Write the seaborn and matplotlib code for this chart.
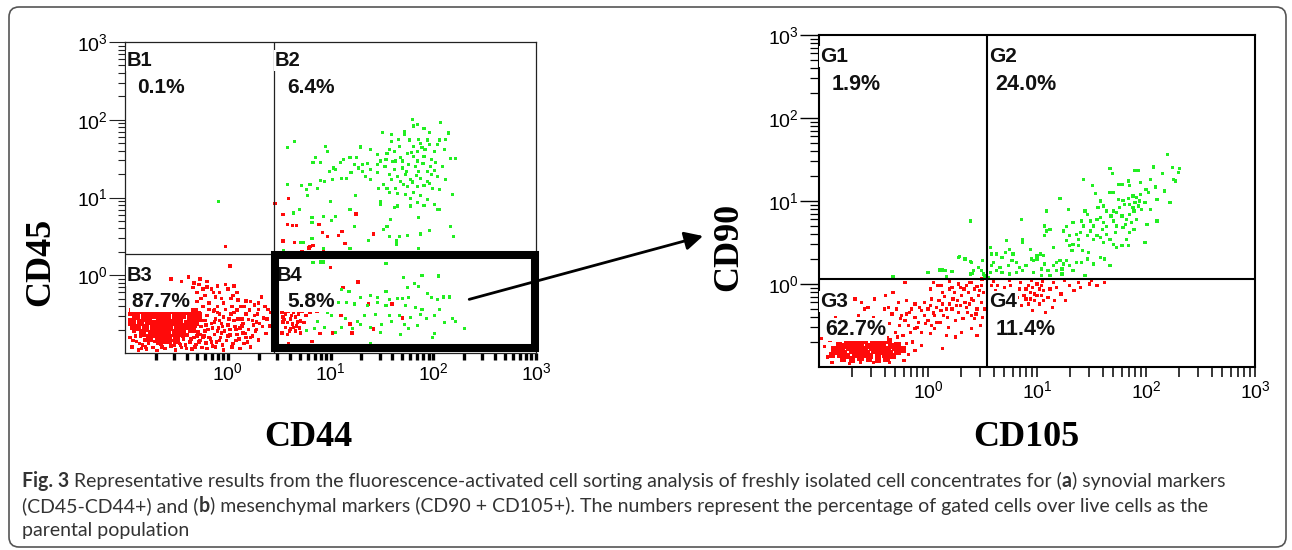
import numpy as np
import pandas as pd
import matplotlib
matplotlib.use("Agg")
import matplotlib.pyplot as plt
import seaborn as sns
from matplotlib.patches import Rectangle, FancyBboxPatch
from matplotlib.ticker import LogLocator, NullFormatter

# ---- data (log10 units) ----
# panel a: CD44 (x) vs CD45 (y)
b1_green = [(-0.09, 0.95)]
b1_red = [(-0.02, 0.37)]
b2_red = [(0.46, 0.92), (0.59, 0.99), (0.54, 0.78), (0.58, 0.65), (0.63, 0.64), (0.67, 0.64),
          (0.54, 0.44), (0.65, 0.42), (0.80, 0.37), (0.83, 0.38), (0.92, 0.55), (0.89, 0.65),
          (0.97, 0.50), (1.08, 0.51), (1.11, 0.56), (1.14, 0.41), (1.25, 0.79), (1.42, 0.53),
          (0.79, 0.35), (0.93, 0.33), (0.72, 0.30)]
b2_green = [(1.80, 2.00), (2.07, 1.97), (1.81, 1.92), (1.85, 1.94), (1.91, 1.89), (1.72, 1.85),
            (1.72, 1.81), (1.59, 1.81), (1.51, 1.84), (1.96, 1.84), (2.15, 1.83), (2.12, 1.75),
            (2.06, 1.74), (1.94, 1.74), (1.86, 1.75), (1.77, 1.74), (1.66, 1.75), (1.59, 1.72),
            (1.67, 1.66), (1.81, 1.66), (1.89, 1.64), (1.96, 1.68), (2.04, 1.68), (2.11, 1.62),
            (2.01, 1.59), (1.85, 1.59), (1.75, 1.57), (1.62, 1.59), (1.55, 1.57), (1.57, 1.62),
            (1.39, 1.62), (1.29, 1.65), (1.46, 1.55), (1.81, 1.53), (1.91, 1.53), (1.98, 1.49),
            (2.17, 1.50), (2.22, 1.50), (1.85, 1.47), (1.70, 1.47), (1.63, 1.47), (1.54, 1.49),
            (1.49, 1.47), (1.46, 1.42), (1.36, 1.44), (1.31, 1.42), (1.25, 1.51), (1.19, 1.52),
            (1.13, 1.49), (1.10, 1.45), (1.03, 1.38), (1.05, 1.36), (0.99, 1.33), (0.90, 1.45),
            (0.83, 1.45), (0.85, 1.52), (0.95, 1.66), (0.97, 1.59), (0.65, 1.72), (0.58, 1.64),
            (1.27, 1.38), (1.39, 1.36), (1.46, 1.32), (1.57, 1.30), (1.65, 1.27), (1.73, 1.30),
            (1.78, 1.23), (1.86, 1.34), (1.94, 1.34), (2.01, 1.35), (2.04, 1.27), (2.12, 1.23),
            (1.94, 1.21), (1.88, 1.25), (1.68, 1.21), (1.59, 1.23), (1.52, 1.17), (1.47, 1.12),
            (1.55, 1.12), (1.63, 1.12), (1.75, 1.14), (1.85, 1.14), (1.91, 1.15), (1.99, 1.12),
            (2.06, 1.10), (1.81, 1.06), (1.73, 1.04), (1.65, 1.05), (1.57, 1.06), (1.78, 0.99),
            (1.88, 1.02), (1.94, 0.97), (1.85, 0.93), (1.78, 0.89), (1.91, 0.90), (2.01, 0.91),
            (2.04, 0.85), (2.19, 1.04), (1.39, 1.23), (1.34, 1.27), (1.31, 1.34), (1.23, 1.42),
            (1.20, 1.32), (1.16, 1.25), (1.11, 1.25), (1.02, 1.23), (0.94, 1.21), (0.90, 1.22),
            (0.87, 1.12), (0.80, 1.17), (0.77, 1.10), (0.72, 1.15), (0.78, 1.02), (0.70, 0.85),
            (0.64, 0.80), (0.58, 1.17), (1.00, 0.95), (1.24, 1.02), (1.19, 0.85), (1.05, 0.76),
            (0.93, 0.76), (0.82, 0.74), (0.82, 0.68), (1.01, 0.70), (1.23, 0.63), (1.37, 0.45),
            (1.49, 0.95), (1.49, 0.91), (1.62, 0.87), (1.65, 0.89), (1.58, 0.72), (1.55, 0.63),
            (1.52, 0.59), (1.57, 0.50), (1.64, 0.44), (1.64, 0.40), (1.67, 0.50), (1.75, 0.51),
            (1.86, 0.74), (1.88, 0.53), (1.96, 0.57), (2.17, 0.63), (2.20, 0.50), (2.06, 0.85),
            (0.54, 0.32), (0.82, 0.47), (0.74, 0.42), (0.71, 0.42), (1.19, 0.34), (1.86, 0.34),
            (0.93, 0.34), (1.70, 1.38), (1.76, 1.42), (1.83, 1.40), (1.90, 1.44), (1.97, 1.40),
            (1.62, 1.36), (1.68, 1.52), (1.79, 1.58), (1.92, 1.62), (2.02, 1.45), (1.53, 1.40),
            (1.60, 1.46), (1.74, 1.33), (1.84, 1.28), (1.98, 1.30), (1.71, 1.17), (1.80, 1.20),
            (1.96, 1.18), (2.09, 1.40), (1.88, 1.70)]
b3_core = [(-0.92, -0.47), (-0.85, -0.45), (-0.78, -0.48), (-0.70, -0.46), (-0.63, -0.47),
           (-0.55, -0.45), (-0.48, -0.48), (-0.40, -0.46), (-0.33, -0.47),
           (-0.89, -0.53), (-0.81, -0.55), (-0.74, -0.52), (-0.66, -0.54), (-0.59, -0.53),
           (-0.51, -0.55), (-0.44, -0.52), (-0.36, -0.54), (-0.29, -0.52),
           (-0.93, -0.60), (-0.85, -0.61), (-0.77, -0.59), (-0.70, -0.62), (-0.62, -0.60),
           (-0.54, -0.61), (-0.47, -0.59), (-0.39, -0.62), (-0.32, -0.60),
           (-0.88, -0.67), (-0.80, -0.68), (-0.72, -0.66), (-0.64, -0.69), (-0.57, -0.67),
           (-0.49, -0.68), (-0.42, -0.66), (-0.35, -0.69),
           (-0.83, -0.74), (-0.74, -0.75), (-0.66, -0.73), (-0.59, -0.76), (-0.51, -0.74),
           (-0.44, -0.75), (-0.76, -0.81), (-0.67, -0.82), (-0.58, -0.80), (-0.50, -0.83)]
b3_cells = [(-0.95, -0.80), (-0.93, -0.92), (-0.91, -0.72), (-0.89, -0.85), (-0.87, -0.96),
            (-0.85, -0.78), (-0.83, -0.90), (-0.81, -0.83), (-0.79, -0.95), (-0.77, -0.87),
            (-0.75, -0.80), (-0.73, -0.93), (-0.71, -0.85), (-0.69, -0.97), (-0.67, -0.79),
            (-0.65, -0.89), (-0.63, -0.83), (-0.61, -0.94), (-0.59, -0.86), (-0.57, -0.78),
            (-0.55, -0.91), (-0.53, -0.84), (-0.51, -0.96), (-0.49, -0.80), (-0.47, -0.88),
            (-0.45, -0.93), (-0.43, -0.82), (-0.41, -0.90), (-0.39, -0.77), (-0.37, -0.86),
            (-0.35, -0.95), (-0.33, -0.80), (-0.31, -0.89), (-0.29, -0.73), (-0.27, -0.84),
            (-0.25, -0.93), (-0.23, -0.78), (-0.21, -0.87), (-0.19, -0.70), (-0.17, -0.82),
            (-0.15, -0.91), (-0.13, -0.76), (-0.11, -0.86), (-0.09, -0.68), (-0.07, -0.80),
            (-0.05, -0.90), (-0.03, -0.72), (-0.01, -0.84), (0.02, -0.77), (0.05, -0.88),
            (0.08, -0.70), (0.11, -0.82), (0.15, -0.74), (0.19, -0.86), (0.24, -0.78),
            (0.30, -0.83), (-0.88, -0.66), (-0.82, -0.74), (-0.74, -0.73), (-0.66, -0.75),
            (-0.58, -0.72), (-0.50, -0.74), (-0.42, -0.72), (-0.36, -0.70), (-0.26, -0.66),
            (-0.22, -0.58), (-0.28, -0.48), (-0.24, -0.40), (-0.20, -0.52), (-0.16, -0.62),
            (-0.14, -0.46), (-0.12, -0.56), (-0.10, -0.40), (-0.08, -0.50), (-0.06, -0.62),
            (-0.04, -0.54), (-0.02, -0.44), (0.00, -0.64), (0.03, -0.50), (0.06, -0.58),
            (0.09, -0.45), (0.12, -0.68), (-0.18, -0.36), (-0.26, -0.30), (-0.30, -0.22),
            (-0.22, -0.26), (-0.16, -0.18), (-0.12, -0.28), (-0.06, -0.30), (-0.28, -0.12),
            (-0.20, -0.08), (-0.34, -0.16), (-0.10, -0.14), (0.00, -0.18), (0.05, -0.26),
            (0.10, -0.32), (-0.55, -0.05), (-0.45, -0.08), (-0.38, -0.02), (-0.33, -0.10),
            (-0.27, -0.05), (-0.20, -0.15), (-0.13, -0.45), (-0.02, -0.12), (0.03, -0.30),
            (0.06, -0.48), (0.09, -0.22), (0.13, -0.40), (0.16, -0.88), (0.18, -0.33),
            (0.21, -0.45), (0.22, -0.80), (0.24, -0.58), (0.26, -0.38), (0.27, -0.72),
            (0.29, -0.50), (0.31, -0.62), (0.33, -0.28), (0.35, -0.55), (0.37, -0.75),
            (0.39, -0.44), (0.41, -0.65), (0.02, 0.12), (0.14, -0.65), (0.20, -0.57),
            (0.17, -0.75), (0.28, -0.60), (-0.08, -0.58), (-0.18, -0.80),
            (-0.94, -0.58), (-0.90, -0.78), (-0.86, -0.88), (-0.80, -0.92), (-0.76, -0.84),
            (-0.72, -0.78), (-0.68, -0.88), (-0.64, -0.92), (-0.60, -0.80), (-0.56, -0.86),
            (-0.52, -0.90), (-0.48, -0.84), (-0.44, -0.78), (-0.40, -0.94), (-0.36, -0.82),
            (-0.32, -0.92), (-0.28, -0.86), (-0.24, -0.80), (-0.20, -0.94), (-0.16, -0.86),
            (-0.12, -0.92), (-0.08, -0.84), (-0.04, -0.96), (0.00, -0.78), (0.04, -0.92),
            (0.08, -0.84), (0.12, -0.94), (0.18, -0.80), (0.22, -0.92), (0.28, -0.70),
            (0.34, -0.66), (0.38, -0.56), (0.42, -0.48), (0.36, -0.40), (0.30, -0.44),
            (0.26, -0.52), (0.18, -0.50), (0.14, -0.56), (0.07, -0.66), (0.02, -0.70),
            (-0.05, -0.66), (-0.10, -0.72), (-0.15, -0.68), (-0.22, -0.72), (-0.27, -0.76),
            (-0.32, -0.66), (-0.26, -0.58), (-0.18, -0.44), (-0.10, -0.48), (-0.04, -0.36),
            (0.04, -0.40), (0.10, -0.56), (0.16, -0.40), (0.22, -0.34), (0.30, -0.36),
            (-0.14, -0.22), (-0.08, -0.22), (0.06, -0.14), (-0.24, -0.18), (-0.30, -0.34),
            (-0.95, -0.50), (-0.93, -0.68), (-0.92, -0.84), (-0.84, -0.94), (-0.62, -0.86),
            (-0.46, -0.90), (-0.30, -0.78), (-0.21, -0.64), (-0.13, -0.60), (-0.06, -0.74),
            (0.01, -0.56), (0.09, -0.76), (0.15, -0.62), (0.20, -0.70), (0.25, -0.64)]
b4_red = [(0.53, -0.48), (0.56, -0.50), (0.59, -0.46), (0.64, -0.48), (0.69, -0.50), (0.72, -0.46),
          (0.54, -0.54), (0.61, -0.56), (0.66, -0.54), (0.71, -0.59), (0.58, -0.61), (0.63, -0.63),
          (0.67, -0.65), (0.74, -0.61), (0.56, -0.67), (0.61, -0.69), (0.66, -0.72), (0.53, -0.74),
          (0.58, -0.76), (0.71, -0.74), (0.76, -0.52), (0.54, -0.60), (0.64, -0.67), (0.59, -0.88),
          (0.82, -0.85), (0.87, -0.46), (1.00, 0.10), (1.27, -0.09), (1.12, -0.16), (1.10, -0.52),
          (1.19, -0.63), (1.37, -0.37), (1.42, -0.69), (1.60, -0.37), (1.70, -0.55), (0.80, -0.48),
          (0.90, -0.75), (1.02, -0.74), (1.21, -0.74), (0.55, -0.57), (0.62, -0.52), (0.68, -0.60),
          (0.60, -0.72), (0.70, -0.68)]
b4_green = [(0.83, 0.16), (0.90, 0.17), (0.93, 0.17), (1.54, 0.15), (1.71, -0.03), (1.89, 0.00),
            (2.05, -0.01), (1.82, -0.11), (1.75, -0.16), (1.86, -0.14), (1.18, -0.21), (1.29, -0.29),
            (1.39, -0.26), (1.46, -0.29), (1.54, -0.21), (1.57, -0.31), (1.65, -0.30), (1.70, -0.30),
            (1.76, -0.29), (1.94, -0.24), (1.98, -0.29), (2.04, -0.31), (2.10, -0.28), (2.16, -0.28),
            (1.11, -0.18), (1.08, -0.35), (1.16, -0.35), (1.23, -0.37), (1.36, -0.39), (1.46, -0.35),
            (1.54, -0.39), (1.73, -0.39), (1.83, -0.41), (1.89, -0.44), (2.06, -0.44), (1.01, -0.52),
            (0.97, -0.48), (1.15, -0.56), (1.33, -0.52), (1.44, -0.50), (1.57, -0.52), (1.67, -0.52),
            (1.78, -0.54), (1.88, -0.50), (1.93, -0.56), (2.01, -0.52), (2.11, -0.61), (2.19, -0.56),
            (2.22, -0.59), (1.50, -0.63), (1.39, -0.67), (1.29, -0.63), (1.21, -0.68), (1.11, -0.67),
            (1.05, -0.74), (0.94, -0.67), (0.84, -0.69), (0.77, -0.71), (1.72, -0.63), (1.85, -0.65),
            (1.76, -0.69), (1.68, -0.76), (2.01, -0.75), (1.99, -0.80), (2.30, -0.69), (1.49, -0.74),
            (1.39, -0.88), (0.87, -0.59), (1.26, -0.59), (1.59, -0.59)]

# panel b: CD105 (x) vs CD90 (y)
g1_cells = [(0.39, 0.76), (-0.32, 0.09), (0.00, 0.14), (0.13, 0.17), (0.17, 0.09), (0.28, 0.32),
            (0.39, 0.27), (0.39, 0.12), (0.41, 0.13), (0.29, 0.33), (0.34, 0.30), (0.40, 0.26),
            (0.42, 0.16), (0.49, 0.16), (0.51, 0.12), (0.16, 0.16), (0.11, 0.17), (0.22, 0.15),
            (0.46, 0.20), (0.50, 0.28), (0.52, 0.09)]
g2_cells = [(2.20, 1.56), (2.07, 1.41), (2.24, 1.40), (2.31, 1.39), (2.30, 1.34), (2.15, 1.33),
            (1.67, 1.39), (1.69, 1.33), (1.90, 1.37), (1.93, 1.37), (1.43, 1.26), (1.51, 1.19),
            (1.95, 1.22), (2.04, 1.26), (2.27, 1.24), (2.25, 1.26), (2.09, 1.17), (2.17, 1.12),
            (1.75, 1.20), (1.78, 1.20), (1.84, 1.24), (1.85, 1.19), (2.02, 1.10), (1.67, 1.10),
            (1.70, 1.10), (1.54, 1.09), (1.21, 1.03), (1.75, 1.02), (1.79, 1.01), (1.84, 1.03),
            (1.88, 1.06), (1.91, 1.04), (1.94, 1.00), (1.99, 0.98), (1.90, 0.98), (1.85, 0.96),
            (2.10, 1.02), (1.93, 0.94), (1.96, 0.90), (1.89, 0.88), (1.85, 0.84), (2.04, 0.90),
            (2.22, 0.98), (1.58, 1.00), (1.61, 0.94), (1.64, 0.88), (1.56, 0.92), (1.70, 0.88),
            (1.73, 0.86), (1.68, 0.82), (1.78, 0.82), (1.82, 0.78), (1.91, 0.78), (1.87, 0.74),
            (1.81, 0.72), (1.73, 0.70), (2.10, 0.76), (2.01, 0.72), (1.29, 0.90), (1.44, 0.88),
            (1.46, 0.84), (1.49, 0.76), (1.41, 0.76), (1.55, 0.78), (1.58, 0.80), (1.61, 0.74),
            (1.64, 0.69), (1.09, 0.88), (1.07, 0.70), (1.09, 0.64), (1.12, 0.66), (1.07, 0.58),
            (1.24, 0.64), (1.27, 0.69), (1.30, 0.58), (1.33, 0.74), (1.36, 0.60), (1.38, 0.54),
            (1.43, 0.70), (1.46, 0.58), (1.49, 0.64), (1.52, 0.54), (1.55, 0.58), (1.58, 0.56),
            (1.61, 0.50), (1.64, 0.60), (1.67, 0.54), (1.70, 0.48), (1.73, 0.44), (1.78, 0.46),
            (1.82, 0.54), (1.84, 0.46), (1.99, 0.50), (1.79, 0.68), (1.85, 0.62), (1.89, 0.66),
            (1.27, 0.52), (1.30, 0.46), (1.33, 0.48), (1.38, 0.46), (1.42, 0.40), (1.47, 0.38),
            (1.41, 0.26), (1.46, 0.30), (1.52, 0.24), (1.58, 0.32), (1.62, 0.30), (1.67, 0.22),
            (0.86, 0.78), (0.87, 0.54), (0.87, 0.50), (0.72, 0.52), (0.75, 0.42), (0.78, 0.36),
            (0.71, 0.38), (0.68, 0.32), (0.77, 0.28), (0.81, 0.26), (0.84, 0.20), (0.94, 0.42),
            (1.00, 0.34), (1.03, 0.36), (1.06, 0.34), (0.97, 0.28), (1.00, 0.30), (1.07, 0.24),
            (1.04, 0.18), (1.10, 0.16), (1.15, 0.22), (1.18, 0.26), (1.21, 0.28), (1.24, 0.24),
            (1.27, 0.28), (1.18, 0.16), (1.23, 0.18), (1.30, 0.22), (1.33, 0.16), (0.57, 0.44),
            (0.58, 0.36), (0.63, 0.36), (0.60, 0.26), (0.66, 0.20), (0.63, 0.16), (0.68, 0.14),
            (0.57, 0.14), (0.58, 0.22), (0.74, 0.22), (0.75, 0.12), (0.81, 0.14), (0.87, 0.16),
            (0.90, 0.22), (0.54, 0.10), (0.55, 0.08), (1.36, 0.26), (1.44, 0.10), (0.97, 0.14),
            (1.04, 0.10), (1.12, 0.10), (1.23, 0.12), (1.76, 0.92), (1.80, 0.96), (1.70, 0.76),
            (1.95, 1.08), (2.00, 1.14), (1.60, 0.66), (1.52, 0.70), (1.40, 0.62), (1.32, 0.40),
            (1.15, 0.44), (0.95, 0.30), (1.88, 0.92), (1.72, 0.62)]
g3_core = [(-0.70, -0.65), (-0.62, -0.66), (-0.54, -0.64), (-0.46, -0.65), (-0.39, -0.66),
           (-0.74, -0.70), (-0.66, -0.71), (-0.58, -0.69), (-0.50, -0.70), (-0.43, -0.71),
           (-0.36, -0.69), (-0.82, -0.74), (-0.76, -0.75), (-0.69, -0.73), (-0.62, -0.74),
           (-0.55, -0.75), (-0.48, -0.73), (-0.41, -0.74), (-0.34, -0.75), (-0.28, -0.74),
           (-0.86, -0.78), (-0.79, -0.79), (-0.72, -0.77), (-0.65, -0.78), (-0.58, -0.79),
           (-0.51, -0.77), (-0.44, -0.78), (-0.37, -0.79), (-0.30, -0.77), (-0.23, -0.79),
           (-0.84, -0.82), (-0.77, -0.83), (-0.70, -0.81), (-0.63, -0.82), (-0.56, -0.83),
           (-0.49, -0.81), (-0.42, -0.82), (-0.35, -0.83), (-0.28, -0.82),
           (-0.88, -0.86), (-0.81, -0.86), (-0.74, -0.87), (-0.67, -0.85), (-0.60, -0.86),
           (-0.53, -0.87), (-0.46, -0.85), (-0.39, -0.86), (-0.32, -0.87),
           (-0.78, -0.90), (-0.70, -0.91), (-0.62, -0.89), (-0.54, -0.90), (-0.46, -0.91),
           (-0.38, -0.90)]
g3_cells = [(-0.33, -0.36), (-0.29, -0.30), (-0.24, -0.38), (-0.21, -0.44), (-0.17, -0.34),
            (-0.12, -0.40), (-0.09, -0.46), (-0.06, -0.32), (-0.03, -0.38), (0.00, -0.44),
            (0.03, -0.50), (-0.12, -0.54), (-0.18, -0.50), (-0.26, -0.50), (-0.30, -0.58),
            (-0.23, -0.62), (-0.06, -0.58), (0.02, -0.60), (0.06, -0.54), (0.11, -0.46),
            (0.14, -0.38), (0.17, -0.30), (0.20, -0.24), (0.13, -0.24), (0.08, -0.28),
            (0.06, -0.38), (0.23, -0.18), (0.26, -0.26), (0.28, -0.34), (0.31, -0.14),
            (0.34, -0.22), (0.37, -0.10), (0.40, -0.18), (0.35, -0.28), (0.43, -0.06),
            (0.46, -0.14), (0.49, -0.02), (0.51, -0.10), (0.49, -0.22), (0.45, -0.30),
            (0.40, -0.38), (0.32, -0.42), (0.25, -0.44), (0.19, -0.52), (0.22, -0.04),
            (0.13, -0.10), (0.09, -0.02), (0.03, -0.18), (-0.03, -0.22), (-0.12, -0.24),
            (-0.20, -0.20), (-0.27, -0.22), (-0.36, -0.28), (-0.41, -0.44), (-0.46, -0.54),
            (-0.50, -0.40), (-0.55, -0.28), (-0.61, -0.22), (-0.67, -0.18), (-0.32, -0.10),
            (-0.21, 0.02), (0.05, 0.02), (-0.39, -0.14), (-0.49, -0.18), (-0.58, -0.30),
            (-0.64, -0.38), (0.43, -0.42), (0.48, -0.50), (0.52, -0.30), (0.45, -0.62),
            (0.40, -0.54), (0.31, -0.58), (0.25, -0.64), (0.17, -0.62), (0.13, -0.78),
            (-0.14, -0.70), (-0.23, -0.78), (-0.30, -0.80), (-0.06, -0.74), (-0.85, -0.40),
            (-0.76, -0.50), (-0.70, -0.62), (-0.91, -0.62), (-0.98, -0.66), (0.02, -0.06),
            (0.40, 0.02), (0.49, 0.06), (0.35, -0.02), (0.28, 0.00), (-0.25, -0.42),
            (-0.15, -0.30), (-0.08, -0.28), (0.00, -0.30), (0.05, -0.35), (0.10, -0.20),
            (0.15, -0.15), (0.18, -0.40), (0.22, -0.30), (0.27, -0.20), (0.30, -0.26),
            (0.33, -0.06), (0.38, -0.24), (0.42, -0.20), (0.44, -0.36), (0.47, -0.08),
            (0.12, -0.32), (-0.02, -0.48), (-0.10, -0.52), (-0.20, -0.36), (-0.35, -0.48),
            (-0.40, -0.30), (-0.45, -0.60), (0.08, -0.46), (0.24, -0.10), (0.36, -0.34),
            (-0.16, -0.58), (0.02, -0.26), (0.20, -0.06), (0.50, -0.40), (-0.95, -0.75),
            (-0.92, -0.88), (-0.90, -0.68), (-0.88, -0.95), (-0.20, -0.72), (-0.18, -0.85),
            (-0.22, -0.92), (-0.12, -0.80), (-0.28, -0.64), (-0.55, -0.62), (-0.65, -0.60),
            (-0.40, -0.64), (-0.78, -0.62), (-0.50, -0.95), (-0.62, -0.95), (-0.35, -0.95),
            (-0.72, -0.96), (0.12, -0.02), (0.20, 0.03), (0.30, -0.04), (0.38, 0.02),
            (0.45, -0.03), (0.50, 0.05)]
g4_cells = [(0.58, -0.02), (0.62, -0.08), (0.66, -0.14), (0.70, -0.04), (0.74, -0.20), (0.78, -0.10),
            (0.82, -0.16), (0.86, -0.26), (0.90, -0.06), (0.94, -0.18), (0.98, -0.12), (1.02, -0.24),
            (1.06, -0.08), (1.10, -0.16), (1.14, -0.28), (1.18, -0.04), (1.22, -0.12), (1.26, -0.20),
            (1.30, -0.02), (1.34, -0.08), (0.60, -0.22), (0.68, -0.30), (0.76, -0.02), (0.80, -0.30),
            (0.88, -0.14), (0.96, -0.32), (1.00, 0.00), (1.04, -0.14), (1.08, -0.34), (1.12, -0.06),
            (1.16, -0.20), (0.92, -0.24), (0.84, -0.06), (0.72, -0.12), (0.64, -0.02), (1.40, -0.04),
            (1.48, 0.00), (1.55, -0.02), (1.62, 0.02), (0.98, -0.20), (1.02, -0.06), (1.06, -0.20),
            (0.94, -0.10), (0.60, 0.03), (0.75, 0.04), (0.85, 0.02), (0.95, 0.04), (1.05, 0.03),
            (1.15, 0.02), (1.25, 0.04), (1.38, 0.02), (1.50, 0.04), (0.90, -0.18), (0.96, -0.04),
            (1.00, -0.14), (0.92, -0.02), (1.04, -0.02)]

# quadrant gate thresholds (linear units)
a_gate_x, a_gate_y = 2.8, 1.86
b_gate_x, b_gate_y = 3.5, 1.15
a_labels = ["B1", "B2", "B3", "B4"]
a_pcts = ["0.1%", "6.4%", "87.7%", "5.8%"]
b_labels = ["G1", "G2", "G3", "G4"]
b_pcts = ["1.9%", "24.0%", "62.7%", "11.4%"]
# sorting gate drawn on panel a (log10 corners)
sort_gate = [(0.459, -0.936), (2.995, 0.256)]

caption_lines = [
    [("Fig. 3", True), (" ", False),
     ("Representative results from the fluorescence-activated cell sorting analysis of freshly "
      "isolated cell concentrates for (", False), ("a", True), (") synovial markers", False)],
    [("(CD45-CD44+) and (", False), ("b", True),
     (") mesenchymal markers (CD90 + CD105+). The numbers represent the percentage of gated "
      "cells over live cells as the", False)],
    [("parental population", False)],
]

RED = "#ff0a0a"
GREEN = "#22ee22"


def cells(points, colour):
    arr = np.array(points, dtype=float)
    return pd.DataFrame({"x": 10 ** arr[:, 0], "y": 10 ** arr[:, 1], "colour": colour})


sns.set_theme(style="ticks")
plt.rcParams["font.family"] = ["Liberation Sans", "DejaVu Sans"]
plt.rcParams["mathtext.fontset"] = "custom"
plt.rcParams["mathtext.rm"] = "Liberation Sans"
plt.rcParams["mathtext.it"] = "Liberation Sans"

W, H = 1292, 550
fig = plt.figure(figsize=(W / 100, H / 100), dpi=100)
fig.patch.set_facecolor("white")
ax1 = fig.add_axes([125 / W, 1 - 353 / H, 411 / W, 311 / H])
ax2 = fig.add_axes([819 / W, 1 - 367 / H, 436 / W, 332 / H])

palette = {"red": RED, "green": GREEN}

red_a = pd.concat([cells(b1_red, "red"), cells(b3_cells, "red"), cells(b4_red, "red"),
                   cells(b2_red, "red")])
green_a = pd.concat([cells(b1_green, "green"), cells(b2_green, "green"), cells(b4_green, "green")])
small_b = pd.concat([cells(g3_cells, "red"), cells(g4_cells, "red"),
                     cells(g1_cells, "green"), cells(g2_cells, "green")])

for ax in (ax1, ax2):
    ax.set_xscale("log")
    ax.set_yscale("log")

sns.scatterplot(data=cells(b3_core, "red"), x="x", y="y", hue="colour", palette=palette,
                marker="s", s=30, linewidth=0, legend=False, ax=ax1)
sns.scatterplot(data=red_a, x="x", y="y", hue="colour", palette=palette,
                marker="s", s=6.5, linewidth=0, legend=False, ax=ax1)
sns.scatterplot(data=green_a, x="x", y="y", hue="colour", palette=palette,
                marker="s", s=5, linewidth=0, legend=False, ax=ax1)
sns.scatterplot(data=cells(g3_core, "red"), x="x", y="y", hue="colour", palette=palette,
                marker="s", s=20, linewidth=0, legend=False, ax=ax2)
sns.scatterplot(data=small_b, x="x", y="y", hue="colour", palette=palette,
                marker="s", s=5.5, linewidth=0, legend=False, ax=ax2)

ticks = [1, 10, 100, 1000]
tick_text = [r"$\mathregular{10^{%d}}$" % k for k in range(4)]
for ax in (ax1, ax2):
    ax.set_xlim(0.1, 1000)
    ax.set_ylim(0.1, 1000)
    ax.set_xticks(ticks)
    ax.set_yticks(ticks)
    ax.set_xticklabels(tick_text)
    ax.set_yticklabels(tick_text)
    for axis in (ax.xaxis, ax.yaxis):
        axis.set_minor_locator(LogLocator(base=10, subs=np.arange(2, 10), numticks=20))
        axis.set_minor_formatter(NullFormatter())
    ax.set_xlabel("")
    ax.set_ylabel("")

ax1.tick_params(axis="x", which="both", direction="out", length=5, width=2.4,
                color="black", pad=1.5, labelsize=14, labelcolor="black")
ax1.tick_params(axis="y", which="major", length=11.5, width=0.8, color="#222222",
                pad=1, labelsize=14, labelcolor="black")
ax1.tick_params(axis="y", which="minor", length=5, width=0.8, color="#222222")
ax2.tick_params(axis="x", which="both", direction="out", length=7.2, width=1.1,
                color="black", pad=2, labelsize=14, labelcolor="black")
ax2.tick_params(axis="y", which="major", length=14, width=1.0, color="black",
                pad=0.5, labelsize=14, labelcolor="black")
ax2.tick_params(axis="y", which="minor", length=6.5, width=0.9, color="black")

for sp in ax1.spines.values():
    sp.set_linewidth(0.9)
    sp.set_color("#222222")
for sp in ax2.spines.values():
    sp.set_linewidth(1.5)
    sp.set_color("black")

ax1.axvline(a_gate_x, color="#222222", lw=0.9, zorder=3)
ax1.axhline(a_gate_y, color="#222222", lw=0.9, zorder=3)
ax2.axvline(b_gate_x, color="black", lw=1.5, zorder=3)
ax2.axhline(b_gate_y, color="black", lw=1.5, zorder=3)

(gx0, gy0), (gx1, gy1) = sort_gate
ax1.add_patch(Rectangle((10 ** gx0, 10 ** gy0), 10 ** gx1 - 10 ** gx0, 10 ** gy1 - 10 ** gy0,
                        fill=False, edgecolor="black", lw=5.8, zorder=5, clip_on=False,
                        joinstyle="miter"))

box = dict(facecolor="white", edgecolor="none", pad=0.6)
lab_a = [(0.005, 0.923, 0.029, 0.836), (0.365, 0.923, 0.394, 0.836),
         (0.005, 0.232, 0.015, 0.148), (0.370, 0.232, 0.394, 0.148)]
for (lx, ly, px, py), name, pct in zip(lab_a, a_labels, a_pcts):
    z = 4.5 if name == "B4" else 6
    ax1.text(lx, ly, name, transform=ax1.transAxes, fontsize=14.5, fontweight="bold",
             va="baseline", ha="left", color="#111111", bbox=box, zorder=z)
    ax1.text(px, py, pct, transform=ax1.transAxes, fontsize=15, fontweight="bold",
             va="baseline", ha="left", color="#111111", bbox=box, zorder=6)
lab_b = [(0.003, 0.919, 0.029, 0.834), (0.391, 0.919, 0.404, 0.834),
         (0.003, 0.181, 0.014, 0.096), (0.391, 0.181, 0.404, 0.096)]
for (lx, ly, px, py), name, pct in zip(lab_b, b_labels, b_pcts):
    ax2.text(lx, ly, name, transform=ax2.transAxes, fontsize=15, fontweight="bold",
             va="baseline", ha="left", color="#111111", bbox=box, zorder=6)
    ax2.text(px, py, pct, transform=ax2.transAxes, fontsize=15.5, fontweight="bold",
             va="baseline", ha="left", color="#111111", bbox=box, zorder=6)

# arrow from the sorting gate to panel b
ax1.annotate("", xy=(703, H - 236), xycoords="figure pixels",
             xytext=(10 ** 2.35, 10 ** -0.31), textcoords="data",
             arrowprops=dict(arrowstyle="-|>,head_length=0.55,head_width=0.28", lw=2,
                             color="black", mutation_scale=20, shrinkA=0, shrinkB=0),
             annotation_clip=False, zorder=7)

serif = ["Liberation Serif", "DejaVu Serif"]
fig.text(308 / W, 1 - 437 / H, "CD44", family=serif, fontweight="bold", fontsize=26,
         ha="center", va="center", color="black")
fig.text(1026 / W, 1 - 437 / H, "CD105", family=serif, fontweight="bold", fontsize=26,
         ha="center", va="center", color="black")
fig.text(41 / W, 1 - 262 / H, "CD45", family=serif, fontweight="bold", fontsize=26,
         rotation=90, ha="center", va="center", color="black")
fig.text(729 / W, 1 - 247 / H, "CD90", family=serif, fontweight="bold", fontsize=26,
         rotation=90, ha="center", va="center", color="black")

# caption with mixed weights
renderer = fig.canvas.get_renderer()
cap_font = ["Lato", "DejaVu Sans"]
cap_color = "#333333"


def draw_line(runs, x0, base_y, size):
    x = x0
    arts = []
    for text, bold in runs:
        t = fig.text(x / W, 1 - base_y / H, text, family=cap_font, fontsize=size,
                     fontweight="bold" if bold else "normal", color=cap_color,
                     ha="left", va="baseline")
        arts.append(t)
        if text == " ":
            probe = fig.text(0, 0, "x x", family=cap_font, fontsize=size)
            probe2 = fig.text(0, 0, "xx", family=cap_font, fontsize=size)
            x += probe.get_window_extent(renderer).width - probe2.get_window_extent(renderer).width
            probe.remove()
            probe2.remove()
        else:
            x += t.get_window_extent(renderer).width
    return x, arts


end, tmp = draw_line(caption_lines[0], 22, 487, 12)
cap_size = 12 * (1226 - 22) / (end - 22)
for t in tmp:
    t.remove()
for line, base in zip(caption_lines, [487, 512, 536]):
    draw_line(line, 22, base, cap_size)

# rounded figure frame
fig.patches.append(FancyBboxPatch((9, 3), 1277, 540, boxstyle="round,pad=0,rounding_size=10",
                                  transform=None, fill=False, edgecolor="#555555", lw=1.2))

fig.savefig("out.png", dpi=100, facecolor="white")
